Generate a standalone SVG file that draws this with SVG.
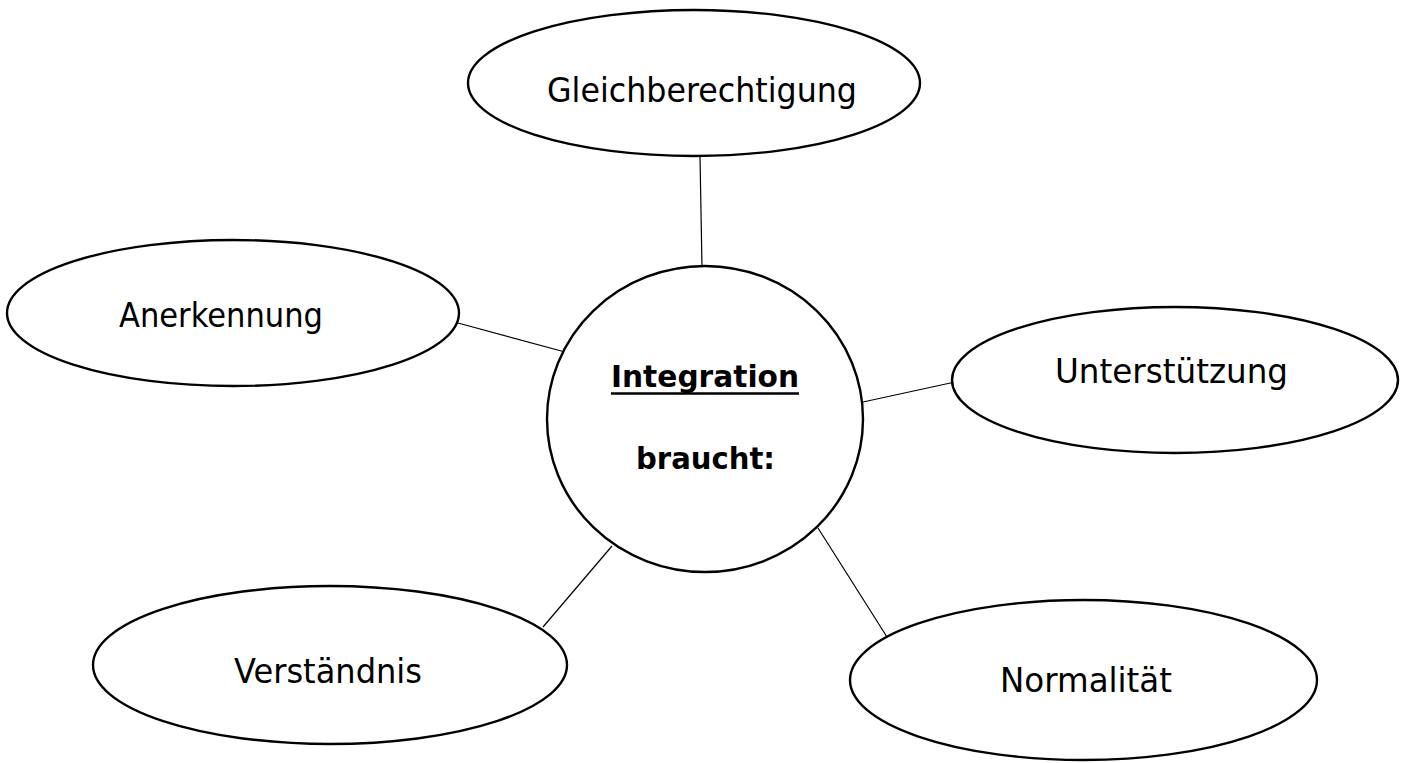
<svg xmlns="http://www.w3.org/2000/svg" width="1405" height="763" viewBox="0 0 1405 763">
<style>
.node{fill:#fff;stroke:#000;stroke-width:2.4}
.conn line{stroke:#000;stroke-width:1.2}
.lbl{font-family:"DejaVu Sans","Noto Sans",sans-serif;font-size:33px;fill:#000}
.bold{font-weight:bold;font-size:31px}
</style>
<rect width="1405" height="763" fill="#fff"/>
<g id="connectors" class="conn">
<line x1="700" y1="156" x2="702" y2="267"/>
<line x1="458" y1="323" x2="565" y2="352"/>
<line x1="863" y1="402" x2="955" y2="382"/>
<line x1="818" y1="528" x2="887" y2="637"/>
<line x1="612" y1="546" x2="543" y2="627"/>
</g>
<g id="center">
<ellipse class="node" cx="705" cy="419" rx="158" ry="153"/>
<text class="lbl bold" x="611" y="387" textLength="188" lengthAdjust="spacingAndGlyphs">Integration</text>
<line x1="611" y1="393.5" x2="799" y2="393.5" stroke="#000" stroke-width="2.5"/>
<text class="lbl bold" x="636" y="469" textLength="139" lengthAdjust="spacingAndGlyphs">braucht:</text>
</g>
<g id="gleichberechtigung">
<ellipse class="node" cx="694" cy="83" rx="226" ry="73"/>
<text class="lbl" x="547" y="102" textLength="310" lengthAdjust="spacingAndGlyphs">Gleichberechtigung</text>
</g>
<g id="anerkennung">
<ellipse class="node" cx="233" cy="313" rx="226" ry="73"/>
<text class="lbl" x="119" y="327" textLength="204" lengthAdjust="spacingAndGlyphs">Anerkennung</text>
</g>
<g id="unterstuetzung">
<ellipse class="node" cx="1175" cy="380" rx="223" ry="73"/>
<text class="lbl" x="1055" y="383" textLength="233" lengthAdjust="spacingAndGlyphs">Unterstützung</text>
</g>
<g id="verstaendnis">
<ellipse class="node" cx="330" cy="665" rx="237" ry="79"/>
<text class="lbl" x="234" y="683" textLength="188" lengthAdjust="spacingAndGlyphs">Verständnis</text>
</g>
<g id="normalitaet">
<ellipse class="node" cx="1083.5" cy="680" rx="233.5" ry="80"/>
<text class="lbl" x="1000" y="692" textLength="172" lengthAdjust="spacingAndGlyphs">Normalität</text>
</g>
</svg>
